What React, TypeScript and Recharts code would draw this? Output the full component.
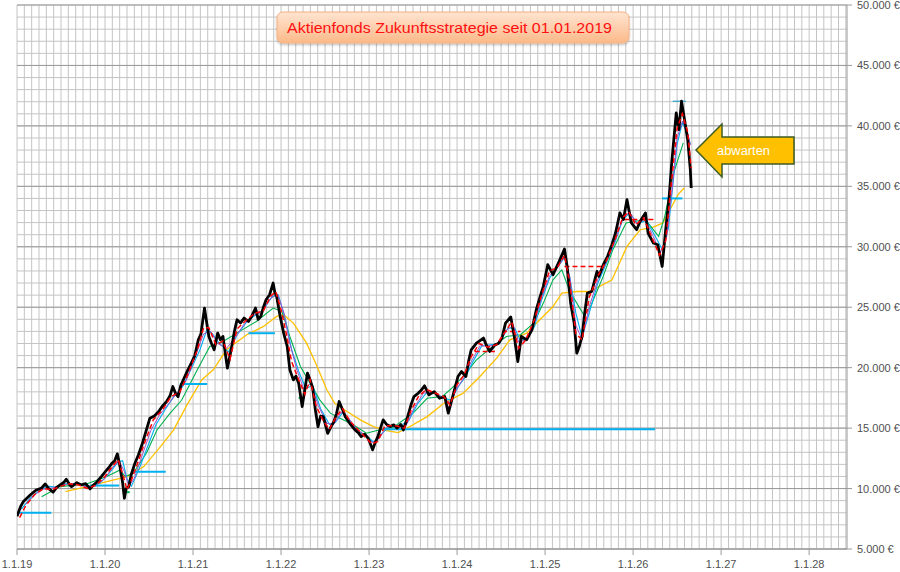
import React from "react";
import { LineChart, Line, XAxis, YAxis, CartesianGrid } from "recharts";

// ---------- data (t = decimal year, v = value in €) ----------
const priceT = [
  2019.0, 2019.04, 2019.07, 2019.15, 2019.22, 2019.28, 2019.32, 2019.36, 2019.41, 2019.45,
  2019.49, 2019.53, 2019.56, 2019.6, 2019.62, 2019.68, 2019.73, 2019.78, 2019.83, 2019.87,
  2019.91, 2019.96, 2020.02, 2020.05, 2020.08, 2020.11, 2020.14, 2020.17, 2020.2, 2020.22,
  2020.24, 2020.27, 2020.3, 2020.34, 2020.38, 2020.42, 2020.46, 2020.51, 2020.56, 2020.61,
  2020.65, 2020.7, 2020.74, 2020.77, 2020.8, 2020.83, 2020.86, 2020.89, 2020.94, 2020.98,
  2021.02, 2021.06, 2021.09, 2021.13, 2021.16, 2021.18, 2021.21, 2021.24, 2021.28, 2021.31,
  2021.34, 2021.37, 2021.39, 2021.42, 2021.44, 2021.47, 2021.5, 2021.54, 2021.58, 2021.63,
  2021.67, 2021.71, 2021.74, 2021.77, 2021.8, 2021.83, 2021.87, 2021.91, 2021.93, 2021.95,
  2021.99, 2022.03, 2022.07, 2022.1, 2022.14, 2022.17, 2022.2, 2022.24, 2022.27, 2022.3,
  2022.33, 2022.36, 2022.39, 2022.42, 2022.45, 2022.48, 2022.53, 2022.56, 2022.6, 2022.63,
  2022.66, 2022.7, 2022.73, 2022.78, 2022.84, 2022.88, 2022.91, 2022.95, 2022.99, 2023.02,
  2023.04, 2023.07, 2023.1, 2023.13, 2023.16, 2023.2, 2023.24, 2023.28, 2023.32, 2023.36,
  2023.39, 2023.42, 2023.45, 2023.48, 2023.51, 2023.56, 2023.6, 2023.63, 2023.68, 2023.74,
  2023.8, 2023.86, 2023.9, 2023.95, 2024.01, 2024.05, 2024.1, 2024.13, 2024.16, 2024.22,
  2024.3, 2024.33, 2024.37, 2024.43, 2024.47, 2024.51, 2024.55, 2024.61, 2024.65, 2024.69,
  2024.73, 2024.79, 2024.85, 2024.9, 2024.94, 2024.98, 2025.03, 2025.09, 2025.16, 2025.22,
  2025.25, 2025.29, 2025.33, 2025.36, 2025.39, 2025.42, 2025.45, 2025.48, 2025.53, 2025.59,
  2025.61, 2025.66, 2025.71, 2025.76, 2025.8, 2025.85, 2025.89, 2025.93, 2025.98, 2026.04,
  2026.08, 2026.14, 2026.17, 2026.23, 2026.28, 2026.33, 2026.37, 2026.41, 2026.44, 2026.49,
  2026.52, 2026.55, 2026.59, 2026.62, 2026.65, 2026.66,
];
const priceV = [
  7700, 8500, 8900, 9470, 9885, 10050, 10380, 10000, 9700, 10100,
  10300, 10500, 10770, 10300, 10160, 10490, 10300, 10400, 9970, 10300,
  10570, 11000, 11540, 11800, 12100, 12300, 12870, 11820, 10500, 9200,
  10000, 10160, 11200, 12100, 12800, 13620, 14600, 15820, 16000, 16370,
  16800, 17200, 17700, 18440, 17900, 17610, 18500, 19000, 19800, 20370,
  21000, 22300, 22800, 24930, 23500, 22580, 22000, 21480, 22860, 22300,
  22580, 21000, 19960, 21000, 21760, 23000, 23960, 23700, 24100, 23820,
  24300, 24930, 24000, 24240, 25000, 25620, 26030, 27000, 26200, 25890,
  24240, 22860, 21760, 19820, 18990, 19300, 18720, 16780, 18200, 19550,
  19000, 18300, 16500, 15120, 16000, 15950, 14570, 15000, 15540, 16200,
  17200, 16500, 15950, 15400, 14850, 14600, 14300, 14500, 14160, 13600,
  13200, 13800, 14300, 15000, 15680, 15300, 15130, 15270, 15000, 15300,
  14850, 15500, 16240, 17000, 17610, 17900, 18200, 18500, 17750, 18020,
  17470, 17610, 16240, 17610, 19270, 19680, 19270, 20500, 21480, 22030,
  22450, 21900, 21340, 21890, 22000, 22450, 23690, 24190, 22580, 20510,
  22580, 22300, 23130, 24790, 25800, 26730, 28520, 27690, 28790, 29820,
  28370, 25340, 23690, 21200, 21800, 22580, 24500, 26170, 26300, 27960,
  27550, 28500, 29210, 30200, 31140, 32800, 32250, 33900, 31970, 31410,
  32110, 32800, 31140, 30310, 30170, 28370, 31410, 34170, 37070, 41070,
  39690, 42040, 40240, 38860, 36380, 34860,
];

const fastT = [
  2019.03, 2019.1, 2019.2, 2019.3, 2019.4, 2019.5, 2019.6, 2019.7, 2019.8, 2019.9,
  2020.0, 2020.08, 2020.15, 2020.2, 2020.25, 2020.3, 2020.38, 2020.46, 2020.55, 2020.65,
  2020.75, 2020.85, 2020.95, 2021.05, 2021.12, 2021.18, 2021.26, 2021.34, 2021.42, 2021.5,
  2021.6, 2021.7, 2021.8, 2021.88, 2021.94, 2022.0, 2022.06, 2022.12, 2022.2, 2022.27,
  2022.33, 2022.4, 2022.48, 2022.55, 2022.63, 2022.7, 2022.78, 2022.87, 2022.95, 2023.03,
  2023.1, 2023.18, 2023.3, 2023.4, 2023.48, 2023.56, 2023.65, 2023.75, 2023.85, 2023.92,
  2024.0, 2024.08, 2024.16, 2024.25, 2024.35, 2024.45, 2024.55, 2024.62, 2024.7, 2024.78,
  2024.88, 2024.96, 2025.05, 2025.14, 2025.22, 2025.28, 2025.35, 2025.42, 2025.5, 2025.6,
  2025.7, 2025.8, 2025.88, 2025.95, 2026.03, 2026.12, 2026.2, 2026.3, 2026.37, 2026.43,
  2026.5, 2026.56, 2026.62, 2026.66,
];
const fastV = [
  7600, 8600, 9500, 10000, 9900, 10200, 10400, 10300, 10000, 10300,
  11000, 11800, 12400, 11200, 9900, 10700, 12300, 14000, 15700, 16500,
  17600, 18000, 19600, 21500, 23300, 23300, 21900, 22200, 20700, 23200,
  23900, 24500, 24700, 25900, 26300, 24800, 22800, 20500, 19000, 17800,
  19000, 16800, 15600, 14900, 16000, 16600, 15600, 14900, 14300, 13700,
  13900, 15200, 15200, 15000, 16500, 17600, 18200, 17900, 17600, 16900,
  18600, 19400, 20900, 22000, 21700, 21900, 23000, 23800, 21600, 22300,
  24000, 26000, 28000, 28300, 29300, 27000, 22800, 22300, 25800, 27600,
  28900, 30700, 32400, 32900, 31800, 32400, 31000, 29300, 30500, 35000,
  39800, 41000, 39500, 36500,
];

const purpleT = [
  2019.1, 2019.2, 2019.3, 2019.4, 2019.5, 2019.6, 2019.7, 2019.8, 2019.9, 2020.0,
  2020.08, 2020.16, 2020.22, 2020.27, 2020.33, 2020.42, 2020.52, 2020.62, 2020.72, 2020.82,
  2020.92, 2021.02, 2021.12, 2021.2, 2021.28, 2021.38, 2021.48, 2021.58, 2021.68, 2021.78,
  2021.88, 2021.96, 2022.03, 2022.1, 2022.18, 2022.26, 2022.34, 2022.42, 2022.52, 2022.6,
  2022.68, 2022.76, 2022.86, 2022.96, 2023.04, 2023.12, 2023.2, 2023.32, 2023.42, 2023.52,
  2023.62, 2023.72, 2023.82, 2023.92, 2024.0, 2024.08, 2024.16, 2024.26, 2024.36, 2024.46,
  2024.56, 2024.64, 2024.7, 2024.78, 2024.88, 2024.96, 2025.05, 2025.14, 2025.22, 2025.28,
  2025.35, 2025.42, 2025.5, 2025.6, 2025.7, 2025.8, 2025.88, 2025.96, 2026.04, 2026.13,
  2026.22, 2026.31, 2026.38, 2026.44, 2026.5, 2026.56, 2026.62, 2026.65,
];
const purpleV = [
  8700, 9500, 9950, 10050, 10250, 10400, 10350, 10100, 10250, 10850,
  11700, 12300, 11400, 10200, 10800, 12700, 14800, 16100, 17000, 17900,
  18900, 20800, 22800, 23000, 22000, 21600, 22500, 23600, 24300, 24600,
  25700, 26100, 24600, 22000, 19800, 18200, 18700, 16900, 15400, 15300,
  16300, 15900, 14900, 14400, 13800, 14200, 15100, 15200, 15200, 16800,
  17900, 18000, 17600, 17100, 18300, 19200, 20500, 21800, 21800, 21900,
  23100, 23500, 22100, 22300, 23700, 25800, 27600, 28300, 29200, 27500,
  23500, 22300, 25000, 27300, 28800, 30600, 32300, 32900, 31900, 32300,
  31000, 29500, 30800, 34500, 39000, 40400, 39400, 38400,
];

const blueT = [
  2019.05, 2019.15, 2019.25, 2019.35, 2019.45, 2019.55, 2019.65, 2019.75, 2019.85, 2019.95,
  2020.05, 2020.15, 2020.2, 2020.25, 2020.3, 2020.38, 2020.48, 2020.58, 2020.68, 2020.78,
  2020.88, 2020.98, 2021.08, 2021.16, 2021.22, 2021.3, 2021.4, 2021.5, 2021.6, 2021.7,
  2021.8, 2021.9, 2021.97, 2022.05, 2022.12, 2022.2, 2022.28, 2022.36, 2022.45, 2022.55,
  2022.62, 2022.7, 2022.78, 2022.88, 2022.98, 2023.06, 2023.14, 2023.22, 2023.35, 2023.45,
  2023.55, 2023.65, 2023.75, 2023.85, 2023.93, 2024.02, 2024.1, 2024.18, 2024.28, 2024.38,
  2024.48, 2024.58, 2024.66, 2024.72, 2024.8, 2024.88, 2024.96, 2025.05, 2025.15, 2025.22,
  2025.28, 2025.35, 2025.42, 2025.5, 2025.6, 2025.7, 2025.8, 2025.88, 2025.96, 2026.05,
  2026.15, 2026.25, 2026.33, 2026.4, 2026.45, 2026.5, 2026.56, 2026.62, 2026.65,
];
const blueV = [
  8300, 9200, 9800, 10200, 10100, 10400, 10400, 10300, 10200, 10500,
  11300, 12200, 12300, 10800, 10200, 11500, 13400, 15300, 16500, 17600,
  18400, 19900, 21500, 23200, 22800, 22000, 21300, 22700, 23700, 24300,
  24800, 25900, 26000, 24000, 21500, 19700, 18300, 18500, 16600, 15300,
  15500, 16300, 15600, 14700, 14300, 13800, 14500, 15100, 15200, 15600,
  17000, 17900, 17900, 17500, 17300, 18500, 19300, 20500, 21800, 21900,
  22000, 23300, 23200, 22200, 22500, 23400, 25600, 27400, 28400, 29100,
  27500, 24500, 22500, 24500, 27000, 28700, 30500, 32200, 32800, 31900,
  32200, 30900, 29800, 31500, 35000, 38500, 40300, 39300, 38500,
];

const greenT = [
  2019.28, 2019.49, 2019.79, 2020.02, 2020.17, 2020.23, 2020.32, 2020.47, 2020.59, 2020.74,
  2020.87, 2021.04, 2021.19, 2021.34, 2021.53, 2021.72, 2021.91, 2022.01, 2022.1, 2022.22,
  2022.33, 2022.44, 2022.56, 2022.67, 2022.82, 2022.97, 2023.09, 2023.28, 2023.5, 2023.66,
  2023.83, 2023.92, 2024.07, 2024.22, 2024.38, 2024.56, 2024.72, 2024.87, 2024.98, 2025.09,
  2025.19, 2025.28, 2025.44, 2025.51, 2025.66, 2025.77, 2025.92, 2026.14, 2026.29, 2026.36,
  2026.46, 2026.57,
];
const greenV = [
  9330, 10160, 10380, 10990, 11540, 10990, 11270, 12920, 14850, 16240,
  17300, 19700, 21760, 22170, 23000, 23820, 24930, 24650, 22580, 20100,
  18720, 17340, 16240, 15820, 15270, 14580, 14800, 15100, 16240, 17470,
  17610, 18170, 19270, 20650, 21620, 22580, 22720, 23690, 25340, 27270,
  28100, 26300, 24380, 24930, 27550, 29760, 31970, 32250, 30860, 32520,
  36100, 38590,
];

const orangeT = [
  2019.55, 2019.79, 2020.02, 2020.25, 2020.44, 2020.63, 2020.78, 2020.93, 2021.1, 2021.23,
  2021.38, 2021.61, 2021.8, 2021.95, 2022.03, 2022.14, 2022.29, 2022.41, 2022.52, 2022.61,
  2022.75, 2022.9, 2023.05, 2023.2, 2023.33, 2023.43, 2023.66, 2023.85, 2024.07, 2024.26,
  2024.45, 2024.6, 2024.79, 2024.94, 2025.09, 2025.19, 2025.36, 2025.51, 2025.76, 2025.93,
  2026.08, 2026.23, 2026.34, 2026.44, 2026.51, 2026.58,
];
const orangeV = [
  9750, 10160, 10570, 10990, 11820, 13470, 14850, 16900, 19000, 19820,
  21480, 22720, 23410, 24240, 24380, 23690, 22030, 20100, 18170, 17060,
  16370, 15680, 15130, 14800, 14630, 14990, 15950, 17060, 17890, 19270,
  20790, 22300, 22860, 23960, 25060, 26170, 26300, 26300, 27270, 30030,
  31410, 31630, 31970, 33350, 34310, 34860,
];

// horizontal marker levels: [start, end, value]
const cyanLevels = [
  [2019.0, 2019.39, 8000],
  [2019.83, 2020.16, 10250],
  [2020.32, 2020.69, 11400],
  [2020.85, 2021.16, 18650],
  [2021.63, 2021.93, 22850],
  [2023.15, 2026.25, 14900],
  [2026.33, 2026.56, 34000],
];
const topLevel = [[2026.45, 2026.6, 42040]];
const redLevels = [
  [2024.2, 2024.43, 21340],
  [2024.51, 2024.72, 23000],
  [2025.22, 2025.65, 28370],
  [2025.9, 2026.25, 32250],
];
const greenLevels = [
  [2020.22, 2020.28, 9700],
  [2022.2, 2022.26, 17500],
];

const yearTicks = [2019, 2020, 2021, 2022, 2023, 2024, 2025, 2026, 2027, 2028];
const yearLabels = ["1.1.19", "1.1.20", "1.1.21", "1.1.22", "1.1.23", "1.1.24", "1.1.25", "1.1.26", "1.1.27", "1.1.28"];
const valueTicks = [5000, 10000, 15000, 20000, 25000, 30000, 35000, 40000, 45000, 50000];

const X_MIN = 2019;
const X_MAX = 2028.43;
const Y_MIN = 5000;
const Y_MAX = 50000;
const monthTicks: number[] = [];
for (let m = 0; X_MIN + m / 12 <= X_MAX + 1e-9; m++) monthTicks.push(X_MIN + m / 12);
const thousandTicks: number[] = [];
for (let v = Y_MIN; v <= Y_MAX; v += 1000) thousandTicks.push(v);

const toPts = (ts: number[], vs: number[]) => ts.map((t, i) => ({ t, v: vs[i] }));
const segPts = (s: number[]) => [{ t: s[0], v: s[2] }, { t: s[1], v: s[2] }];

const price = toPts(priceT, priceV);
const fast = toPts(fastT, fastV);
const purple = toPts(purpleT, purpleV);
const blue = toPts(blueT, blueV);
const green = toPts(greenT, greenV);
const orange = toPts(orangeT, orangeV);

const fmtEuro = (v: number) => v.toLocaleString("de-DE") + " €";
const fmtYear = (t: number) => yearLabels[yearTicks.indexOf(Math.round(t))] ?? "";

const FONT = "Liberation Sans, Arial, sans-serif";

// grid line positions derived from the chart's plot offset (linear axes)
const vGen = (p: any) => {
  const o = p.offset;
  const sc = p.xAxis && typeof p.xAxis.scale === "function" ? p.xAxis.scale : null;
  return monthTicks.map((t) => (sc ? sc(t) : o.left + ((t - X_MIN) / (X_MAX - X_MIN)) * o.width));
};
const hGen = (p: any) => {
  const o = p.offset;
  const sc = p.yAxis && typeof p.yAxis.scale === "function" ? p.yAxis.scale : null;
  return thousandTicks.map((v) => (sc ? sc(v) : o.top + ((Y_MAX - v) / (Y_MAX - Y_MIN)) * o.height));
};

const RightTick = (props: any) => {
  const { x, y, payload } = props;
  return (
    <text x={x} y={y} dy={4} textAnchor="start" fontFamily={FONT} fontSize={11} fill="#505050">
      {fmtEuro(payload.value)}
    </text>
  );
};
const BottomTick = (props: any) => {
  const { x, y, payload } = props;
  return (
    <text x={x} y={y} dy={8} textAnchor="middle" fontFamily={FONT} fontSize={11} fill="#505050">
      {fmtYear(payload.value)}
    </text>
  );
};

export default function App() {
  return (
    <div style={{ position: "absolute", left: 0, top: 0, width: 900, height: 572, background: "#fff", overflow: "hidden" }}>
      <LineChart width={900} height={572} margin={{ top: 5, right: 0, bottom: 0, left: 17 }}>
        <CartesianGrid
          stroke="#c4c4c4"
          strokeWidth={1}
          verticalCoordinatesGenerator={vGen}
          horizontalCoordinatesGenerator={hGen}
          syncWithTicks={false}
        />
        <CartesianGrid vertical={false} stroke="#9a9a9a" strokeWidth={1} />
        <XAxis
          type="number"
          dataKey="t"
          domain={[X_MIN, X_MAX]}
          ticks={yearTicks}
          allowDataOverflow
          height={23}
          tickSize={6}
          tickMargin={5}
          stroke="#9a9a9a"
          tick={<BottomTick />}
          interval={0}
        />
        <YAxis
          orientation="right"
          type="number"
          domain={[Y_MIN, Y_MAX]}
          ticks={valueTicks}
          allowDataOverflow
          width={53}
          tickSize={5}
          tickMargin={5}
          stroke="#9a9a9a"
          tick={<RightTick />}
          interval={0}
        />
        <Line data={orange} dataKey="v" stroke="#FFC000" strokeWidth={1.3} dot={false} isAnimationActive={false} />
        <Line data={green} dataKey="v" stroke="#00B050" strokeWidth={1.1} dot={false} isAnimationActive={false} />
        <Line data={blue} dataKey="v" stroke="#00B0F0" strokeWidth={1.1} dot={false} isAnimationActive={false} />
        <Line data={purple} dataKey="v" stroke="#9E52C8" strokeWidth={1} dot={false} isAnimationActive={false} />
        {cyanLevels.map((s, i) => (
          <Line key={"c" + i} data={segPts(s)} dataKey="v" stroke="#00B0F0" strokeWidth={2} dot={false} isAnimationActive={false} />
        ))}
        {topLevel.map((s, i) => (
          <Line key={"tl" + i} data={segPts(s)} dataKey="v" stroke="#2aa0c8" strokeWidth={1.2} dot={false} isAnimationActive={false} />
        ))}
        {greenLevels.map((s, i) => (
          <Line key={"g" + i} data={segPts(s)} dataKey="v" stroke="#00B050" strokeWidth={2} dot={false} isAnimationActive={false} />
        ))}
        {redLevels.map((s, i) => (
          <Line key={"r" + i} data={segPts(s)} dataKey="v" stroke="#FF0000" strokeWidth={1.5} strokeDasharray="5 3" dot={false} isAnimationActive={false} />
        ))}
        <Line data={price} dataKey="v" stroke="#000000" strokeWidth={2.8} strokeLinejoin="round" dot={false} isAnimationActive={false} />
        <Line data={fast} dataKey="v" stroke="#FF0000" strokeWidth={1.5} strokeDasharray="5 3" dot={false} isAnimationActive={false} />
      </LineChart>
      <svg width={900} height={572} style={{ position: "absolute", left: 0, top: 0, pointerEvents: "none" }}>
        <defs>
          <linearGradient id="titleGrad" x1="0" y1="0" x2="0" y2="1">
            <stop offset="0" stopColor="#FFE4D0" />
            <stop offset="0.5" stopColor="#FDCFAE" />
            <stop offset="1" stopColor="#FBB987" />
          </linearGradient>
          <filter id="sh" x="-10%" y="-30%" width="120%" height="160%">
            <feDropShadow dx="0" dy="1.5" stdDeviation="1.2" floodColor="#000" floodOpacity="0.25" />
          </filter>
        </defs>
        <rect x={277} y={12} width={352} height={31} rx={6} ry={6} fill="url(#titleGrad)" stroke="#F4B183" strokeWidth={1} filter="url(#sh)" />
        <text
          x={287}
          y={33}
          fontFamily={FONT}
          fontSize={15}
          fill="#FF1010"
          textLength={325}
          lengthAdjust="spacingAndGlyphs"
        >
          Aktienfonds Zukunftsstrategie seit 01.01.2019
        </text>
        <polygon
          points="696,150 722,124 722,137 794,137 794,164 722,164 722,177"
          fill="#FFC000"
          stroke="#3E5B23"
          strokeWidth={1.5}
          strokeLinejoin="miter"
        />
        <text
          x={717}
          y={155}
          fontFamily={FONT}
          fontSize={12.5}
          fill="#FFFFFF"
          textLength={53}
          lengthAdjust="spacingAndGlyphs"
        >
          abwarten
        </text>
      </svg>
    </div>
  );
}
